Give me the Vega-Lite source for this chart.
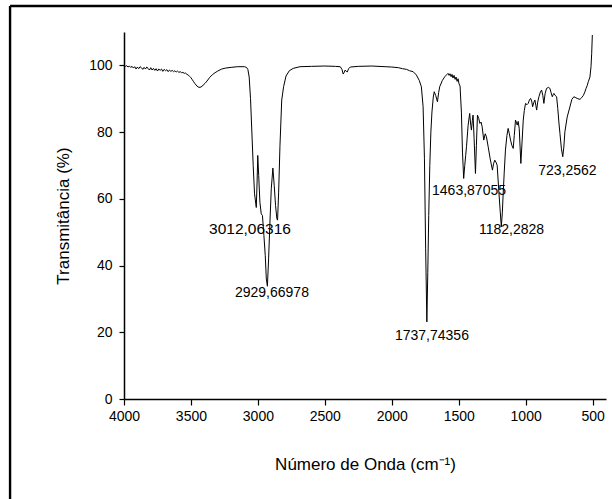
{
  "$schema": "https://vega.github.io/schema/vega-lite/v6.json",
  "width": 482,
  "height": 367,
  "autosize": {"type": "none"},
  "padding": {"left": 124, "top": 32, "right": 6, "bottom": 100},
  "background": "white",
  "config": {
    "view": {"stroke": null},
    "font": "Liberation Sans",
    "axis": {
      "grid": false,
      "domainColor": "black",
      "domainWidth": 1.5,
      "tickColor": "black",
      "tickWidth": 1.2,
      "labelColor": "black",
      "titleColor": "black",
      "labelFont": "Liberation Sans",
      "titleFont": "Liberation Sans",
      "labelFontSize": 14,
      "titleFontSize": 17,
      "titleFontWeight": "normal",
      "labelOverlap": false,
      "labelFlush": false
    }
  },
  "datasets": {
    "spectrum": [
      {"wn": 4000, "t": 99.9}, {"wn": 3990, "t": 99.7}, {"wn": 3980, "t": 99.9}, {"wn": 3970, "t": 99.5},
      {"wn": 3960, "t": 99.8}, {"wn": 3950, "t": 99.4}, {"wn": 3940, "t": 99.7}, {"wn": 3930, "t": 99.2},
      {"wn": 3920, "t": 99.6}, {"wn": 3910, "t": 98.9}, {"wn": 3900, "t": 99.5}, {"wn": 3890, "t": 99.0},
      {"wn": 3880, "t": 99.6}, {"wn": 3870, "t": 99.3}, {"wn": 3860, "t": 98.8}, {"wn": 3850, "t": 99.4},
      {"wn": 3840, "t": 98.9}, {"wn": 3830, "t": 99.5}, {"wn": 3820, "t": 99.1}, {"wn": 3810, "t": 98.6},
      {"wn": 3800, "t": 99.3}, {"wn": 3790, "t": 98.6}, {"wn": 3780, "t": 99.1}, {"wn": 3770, "t": 98.5},
      {"wn": 3760, "t": 99.0}, {"wn": 3750, "t": 98.3}, {"wn": 3740, "t": 98.9}, {"wn": 3730, "t": 98.5},
      {"wn": 3720, "t": 98.9}, {"wn": 3710, "t": 98.2}, {"wn": 3700, "t": 98.8}, {"wn": 3690, "t": 98.4},
      {"wn": 3680, "t": 98.7}, {"wn": 3670, "t": 98.1}, {"wn": 3660, "t": 98.6}, {"wn": 3650, "t": 98.2},
      {"wn": 3640, "t": 98.5}, {"wn": 3630, "t": 98.1}, {"wn": 3620, "t": 98.4}, {"wn": 3610, "t": 98.0},
      {"wn": 3600, "t": 98.3}, {"wn": 3590, "t": 97.9}, {"wn": 3580, "t": 98.1}, {"wn": 3570, "t": 97.8},
      {"wn": 3560, "t": 97.9}, {"wn": 3550, "t": 97.6}, {"wn": 3540, "t": 97.7}, {"wn": 3530, "t": 97.3},
      {"wn": 3520, "t": 97.1}, {"wn": 3510, "t": 96.7}, {"wn": 3500, "t": 96.3}, {"wn": 3490, "t": 95.7},
      {"wn": 3480, "t": 95.1}, {"wn": 3470, "t": 94.5}, {"wn": 3455, "t": 93.8}, {"wn": 3440, "t": 93.4},
      {"wn": 3425, "t": 93.5}, {"wn": 3410, "t": 94.0}, {"wn": 3395, "t": 94.6}, {"wn": 3380, "t": 95.3},
      {"wn": 3360, "t": 96.4}, {"wn": 3340, "t": 97.2}, {"wn": 3320, "t": 97.8}, {"wn": 3300, "t": 98.3},
      {"wn": 3270, "t": 98.9}, {"wn": 3240, "t": 99.2}, {"wn": 3200, "t": 99.4}, {"wn": 3150, "t": 99.6},
      {"wn": 3100, "t": 99.6}, {"wn": 3085, "t": 99.4}, {"wn": 3075, "t": 98.8}, {"wn": 3065, "t": 96.5},
      {"wn": 3055, "t": 90.0}, {"wn": 3045, "t": 80.0}, {"wn": 3035, "t": 70.0}, {"wn": 3025, "t": 61.5},
      {"wn": 3012, "t": 57.4}, {"wn": 3006, "t": 65.0}, {"wn": 3001, "t": 73.0}, {"wn": 2994, "t": 67.0},
      {"wn": 2985, "t": 59.0}, {"wn": 2975, "t": 55.5}, {"wn": 2966, "t": 55.0}, {"wn": 2955, "t": 49.0},
      {"wn": 2945, "t": 43.0}, {"wn": 2937, "t": 36.0}, {"wn": 2929, "t": 33.8}, {"wn": 2920, "t": 42.0},
      {"wn": 2910, "t": 53.0}, {"wn": 2900, "t": 63.0}, {"wn": 2888, "t": 69.2}, {"wn": 2878, "t": 64.0},
      {"wn": 2868, "t": 58.0}, {"wn": 2858, "t": 54.0}, {"wn": 2853, "t": 53.6}, {"wn": 2845, "t": 62.0},
      {"wn": 2835, "t": 76.0}, {"wn": 2822, "t": 89.6}, {"wn": 2808, "t": 93.6}, {"wn": 2790, "t": 96.8},
      {"wn": 2765, "t": 98.4}, {"wn": 2736, "t": 99.1}, {"wn": 2686, "t": 99.6}, {"wn": 2600, "t": 99.7},
      {"wn": 2500, "t": 99.8}, {"wn": 2420, "t": 99.7}, {"wn": 2385, "t": 99.6}, {"wn": 2372, "t": 98.8},
      {"wn": 2363, "t": 97.4}, {"wn": 2355, "t": 97.9}, {"wn": 2348, "t": 98.6}, {"wn": 2340, "t": 98.2},
      {"wn": 2333, "t": 98.0}, {"wn": 2322, "t": 99.0}, {"wn": 2310, "t": 99.5}, {"wn": 2250, "t": 99.7},
      {"wn": 2150, "t": 99.8}, {"wn": 2050, "t": 99.6}, {"wn": 2000, "t": 99.5}, {"wn": 1950, "t": 99.3},
      {"wn": 1920, "t": 99.0}, {"wn": 1890, "t": 98.8}, {"wn": 1868, "t": 98.4}, {"wn": 1840, "t": 98.1},
      {"wn": 1816, "t": 97.1}, {"wn": 1795, "t": 95.5}, {"wn": 1779, "t": 93.6}, {"wn": 1766, "t": 87.6},
      {"wn": 1756, "t": 72.0}, {"wn": 1747, "t": 45.0}, {"wn": 1738, "t": 23.1}, {"wn": 1731, "t": 38.0},
      {"wn": 1724, "t": 55.0}, {"wn": 1716, "t": 70.0}, {"wn": 1708, "t": 80.0}, {"wn": 1700, "t": 86.0},
      {"wn": 1690, "t": 90.5}, {"wn": 1683, "t": 92.1}, {"wn": 1672, "t": 91.0}, {"wn": 1659, "t": 89.1},
      {"wn": 1650, "t": 91.8}, {"wn": 1642, "t": 93.6}, {"wn": 1622, "t": 95.5}, {"wn": 1604, "t": 96.6},
      {"wn": 1590, "t": 97.2}, {"wn": 1580, "t": 97.6}, {"wn": 1572, "t": 97.0}, {"wn": 1565, "t": 97.5},
      {"wn": 1557, "t": 96.6}, {"wn": 1550, "t": 97.3}, {"wn": 1543, "t": 96.2}, {"wn": 1535, "t": 97.0},
      {"wn": 1527, "t": 95.8}, {"wn": 1520, "t": 96.5}, {"wn": 1512, "t": 95.2}, {"wn": 1505, "t": 96.0},
      {"wn": 1498, "t": 94.5}, {"wn": 1490, "t": 93.8}, {"wn": 1480, "t": 86.0}, {"wn": 1472, "t": 74.0},
      {"wn": 1463, "t": 66.1}, {"wn": 1455, "t": 70.0}, {"wn": 1448, "t": 73.0}, {"wn": 1442, "t": 75.6},
      {"wn": 1430, "t": 82.0}, {"wn": 1418, "t": 85.6}, {"wn": 1410, "t": 82.0}, {"wn": 1405, "t": 80.6},
      {"wn": 1398, "t": 83.5}, {"wn": 1393, "t": 85.1}, {"wn": 1385, "t": 78.0}, {"wn": 1375, "t": 67.6},
      {"wn": 1368, "t": 76.0}, {"wn": 1360, "t": 85.1}, {"wn": 1350, "t": 84.0}, {"wn": 1342, "t": 82.6},
      {"wn": 1333, "t": 83.0}, {"wn": 1325, "t": 81.6}, {"wn": 1313, "t": 77.6}, {"wn": 1302, "t": 79.5},
      {"wn": 1293, "t": 78.6}, {"wn": 1280, "t": 75.6}, {"wn": 1265, "t": 72.0}, {"wn": 1248, "t": 68.6},
      {"wn": 1240, "t": 70.5}, {"wn": 1231, "t": 71.6}, {"wn": 1222, "t": 71.0}, {"wn": 1213, "t": 70.1},
      {"wn": 1200, "t": 62.0}, {"wn": 1182, "t": 51.6}, {"wn": 1174, "t": 56.0}, {"wn": 1168, "t": 61.6},
      {"wn": 1160, "t": 68.0}, {"wn": 1151, "t": 74.6}, {"wn": 1140, "t": 79.0}, {"wn": 1131, "t": 81.1},
      {"wn": 1122, "t": 79.5}, {"wn": 1113, "t": 77.6}, {"wn": 1103, "t": 76.0}, {"wn": 1093, "t": 75.1},
      {"wn": 1085, "t": 79.0}, {"wn": 1076, "t": 83.6}, {"wn": 1070, "t": 83.0}, {"wn": 1063, "t": 82.1},
      {"wn": 1056, "t": 83.2}, {"wn": 1048, "t": 81.0}, {"wn": 1036, "t": 70.6}, {"wn": 1027, "t": 77.0},
      {"wn": 1018, "t": 83.6}, {"wn": 1010, "t": 86.5}, {"wn": 1001, "t": 88.6}, {"wn": 990, "t": 88.2},
      {"wn": 981, "t": 88.6}, {"wn": 972, "t": 89.6}, {"wn": 963, "t": 90.1}, {"wn": 955, "t": 89.3},
      {"wn": 948, "t": 87.6}, {"wn": 940, "t": 88.8}, {"wn": 931, "t": 89.6}, {"wn": 924, "t": 88.0},
      {"wn": 918, "t": 86.6}, {"wn": 910, "t": 89.0}, {"wn": 901, "t": 90.6}, {"wn": 890, "t": 92.0},
      {"wn": 881, "t": 92.6}, {"wn": 872, "t": 91.0}, {"wn": 864, "t": 88.6}, {"wn": 855, "t": 91.5},
      {"wn": 844, "t": 93.1}, {"wn": 830, "t": 93.4}, {"wn": 819, "t": 93.1}, {"wn": 810, "t": 91.8},
      {"wn": 801, "t": 90.6}, {"wn": 795, "t": 91.2}, {"wn": 789, "t": 91.6}, {"wn": 780, "t": 91.0},
      {"wn": 769, "t": 90.6}, {"wn": 760, "t": 87.0}, {"wn": 752, "t": 83.0}, {"wn": 744, "t": 79.6},
      {"wn": 733, "t": 75.0}, {"wn": 723, "t": 72.6}, {"wn": 715, "t": 75.5}, {"wn": 707, "t": 80.1},
      {"wn": 690, "t": 84.5}, {"wn": 670, "t": 87.5}, {"wn": 655, "t": 89.8}, {"wn": 640, "t": 90.6},
      {"wn": 625, "t": 90.3}, {"wn": 610, "t": 90.0}, {"wn": 595, "t": 89.8}, {"wn": 582, "t": 90.3},
      {"wn": 569, "t": 91.0}, {"wn": 558, "t": 92.0}, {"wn": 549, "t": 93.1}, {"wn": 540, "t": 94.0},
      {"wn": 532, "t": 95.1}, {"wn": 520, "t": 96.5}, {"wn": 512, "t": 99.6}, {"wn": 507, "t": 103.5},
      {"wn": 502, "t": 109.1}
    ],
    "labels": [
      {"label": "3012,06316", "wn": 3059, "t": 51.0, "big": true},
      {"label": "2929,66978", "wn": 2895, "t": 31.8, "big": false},
      {"label": "1737,74356", "wn": 1700, "t": 18.9, "big": false},
      {"label": "1463,87055", "wn": 1423, "t": 62.3, "big": false},
      {"label": "1182,2828", "wn": 1106, "t": 50.7, "big": false},
      {"label": "723,2562", "wn": 688, "t": 68.3, "big": false}
    ],
    "frame": [{"side": "page"}]
  },
  "layer": [
    {
      "data": {"name": "spectrum"},
      "mark": {"type": "line", "color": "black", "strokeWidth": 1},
      "encoding": {
        "x": {
          "field": "wn",
          "type": "quantitative",
          "scale": {"domain": [400, 4000], "reverse": true, "nice": false, "zero": false},
          "axis": {
            "values": [4000, 3750, 3500, 3250, 3000, 2750, 2500, 2250, 2000, 1750, 1500, 1250, 1000, 750, 500],
            "format": "d",
            "labelExpr": "datum.value % 500 === 0 ? datum.label : ''",
            "tickSize": {"condition": {"test": "datum.value % 500 === 0", "value": 6}, "value": 3},
            "labelPadding": 4,
            "title": "Número de Onda (cm⁻¹)",
            "titlePadding": 33
          }
        },
        "y": {
          "field": "t",
          "type": "quantitative",
          "scale": {"domain": [0, 110], "nice": false, "zero": false},
          "axis": {
            "values": [0, 10, 20, 30, 40, 50, 60, 70, 80, 90, 100, 110],
            "labelExpr": "datum.value % 20 === 0 ? datum.label : ''",
            "tickSize": {"condition": {"test": "datum.value % 20 === 0", "value": 5}, "value": 3},
            "labelPadding": 7,
            "title": "Transmitância (%)",
            "titlePadding": 16
          }
        }
      }
    },
    {
      "data": {"name": "labels"},
      "transform": [{"filter": "datum.big"}],
      "mark": {"type": "text", "font": "Liberation Sans", "fontSize": 15.5, "color": "black", "align": "center", "baseline": "middle"},
      "encoding": {
        "x": {"field": "wn", "type": "quantitative"},
        "y": {"field": "t", "type": "quantitative"},
        "text": {"field": "label"}
      }
    },
    {
      "data": {"name": "labels"},
      "transform": [{"filter": "!datum.big"}],
      "mark": {"type": "text", "font": "Liberation Sans", "fontSize": 14, "color": "black", "align": "center", "baseline": "middle"},
      "encoding": {
        "x": {"field": "wn", "type": "quantitative"},
        "y": {"field": "t", "type": "quantitative"},
        "text": {"field": "label"}
      }
    },
    {
      "data": {"name": "frame"},
      "mark": {"type": "rule", "color": "black", "strokeWidth": 2.4, "clip": false},
      "encoding": {
        "x": {"datum": 4851, "type": "quantitative"},
        "y": {"datum": 117.8, "type": "quantitative"},
        "y2": {"datum": -60}
      }
    },
    {
      "data": {"name": "frame"},
      "mark": {"type": "rule", "color": "black", "strokeWidth": 2.4, "clip": false},
      "encoding": {
        "x": {"datum": 4851, "type": "quantitative"},
        "x2": {"datum": 200},
        "y": {"datum": 117.8, "type": "quantitative"}
      }
    }
  ]
}
